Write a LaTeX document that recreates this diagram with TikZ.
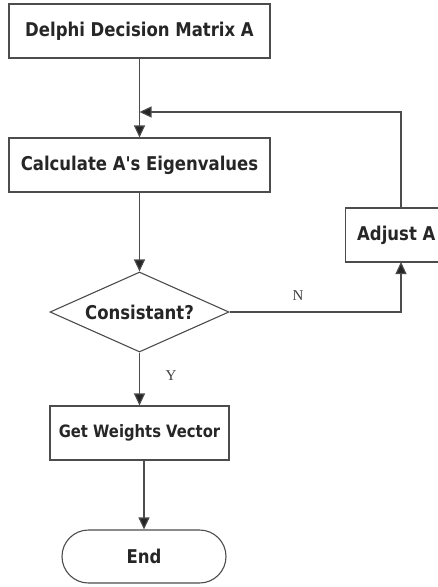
\documentclass[tikz,border=0pt]{standalone}
\usepackage{fontspec}
\setmainfont{DejaVu Sans}
\newfontfamily\serifN{Liberation Serif}
\usetikzlibrary{shapes.geometric,shapes.misc,arrows.meta}
\newcommand{\stretchtx}[1]{\scalebox{1}[1.15]{#1}}
\begin{document}
\begin{tikzpicture}[x=1pt,y=-1pt,
  line/.style={draw=black!70,line width=1.1pt},
  arr/.style={line,-{Triangle[length=12pt,width=11pt,fill=black!85]}},
  big/.style={font=\bfseries\fontsize{16.5}{18}\selectfont,text=black!85},
  box/.style={draw=black!70,line width=1.1pt,rectangle,inner sep=0pt,big},
  lab/.style={font=\serifN\fontsize{15}{17}\selectfont,text=black!75}]
\useasboundingbox (0,0) rectangle (438,587);
\begin{scope}
\clip (0,0) rectangle (438,587);
\node[box,minimum width=261pt,minimum height=54pt] (m) at (139.5,31) {\stretchtx{Delphi Decision Matrix A}};
\node[box,minimum width=261pt,minimum height=54pt] (c) at (139.5,165) {\stretchtx{Calculate A\textquotesingle s Eigenvalues}};
\node[diamond,draw=black!70,line width=1.1pt,inner sep=0pt,minimum width=179pt,minimum height=80pt,aspect=2.24,big] (d) at (139.5,312) {\stretchtx{Consistant?}};
\node[box,minimum width=179pt,minimum height=54pt,font=\bfseries\fontsize{14.8}{16}\selectfont] (g) at (139.5,433) {\stretchtx{Get Weights Vector}};
\node[box,minimum width=110pt,minimum height=54pt,anchor=west] (a) at (345,235) {};
\node[big,anchor=west,inner sep=0pt] (at) at (357,235) {\stretchtx{Adjust A}};
\node[rounded rectangle,draw=black!70,line width=1.1pt,minimum width=164pt,minimum height=53pt,inner sep=0pt,big] (e) at (144,556.5) {\stretchtx{End}};
\end{scope}
\coordinate (j) at (139.5,112);
\draw[arr] (m.south) -- (c.north);
\draw[arr] (c.south) -- (d.north);
\draw[arr] (d.south) -- (g.north);
\draw[arr] (144,460) -- (e.north);
\draw[arr] (d.east) -| (401,262);
\draw[arr] (401,208) |- (j);
\node[lab] (n) at (298,296) {N};
\node[lab] (y) at (171,376) {Y};
\end{tikzpicture}
\end{document}
